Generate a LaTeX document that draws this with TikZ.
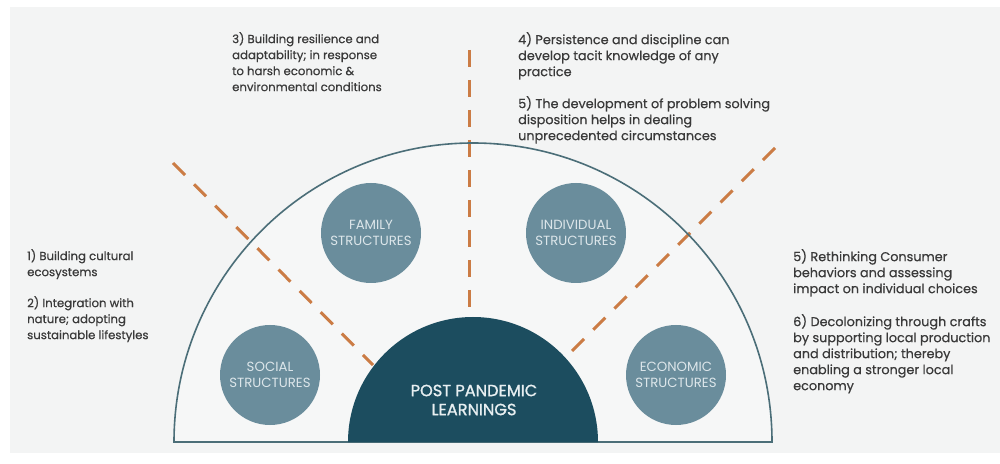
\documentclass[tikz,border=0pt]{standalone}
\usepackage{fontspec}
\setmainfont{Poppins}
\usetikzlibrary{calc}

\definecolor{panel}{HTML}{F3F4F4}
\definecolor{innerbg}{HTML}{F6F7F7}
\definecolor{rim}{HTML}{4B6E78}
\definecolor{hubfill}{HTML}{6A8D9C}
\definecolor{hubtext}{HTML}{DCE6EA}
\definecolor{corefill}{HTML}{1C4D5F}
\definecolor{coretext}{HTML}{E8EFF1}
\definecolor{ray}{HTML}{CB7C45}
\definecolor{note}{HTML}{3A3A3A}

\tikzset{
  hub/.style={circle, fill=hubfill, minimum size=100pt, inner sep=0pt,
    text=hubtext, align=center, font=\fontsize{13.3}{16}\selectfont},
  corelabel/.style={text=coretext, align=center, inner sep=0pt,
    font=\addfontfeature{FakeBold=1.2}\fontsize{16.2}{19}\selectfont},
  notebox/.style={anchor=north west, inner sep=0pt, align=left, text=note,
    font=\addfontfeature{FakeBold=0.5}\fontsize{11.7}{16}\selectfont},
  bignote/.style={notebox, font=\addfontfeature{FakeBold=0.5}\fontsize{12.8}{16}\selectfont},
  rayline/.style={draw=ray, line width=3pt, dash pattern=on 17pt off 13pt},
  rimline/.style={draw=rim, line width=1.6pt},
}

\begin{document}
\begin{tikzpicture}[x=1pt, y=1pt]
  \useasboundingbox (0,0) rectangle (1000,463);
  \fill[white] (0,0) rectangle (1000,463);
  \fill[panel] (10,10) rectangle (1000,456);

  % centre of the base line
  \coordinate (O) at (473,21);

  % outer half disc
  \fill[innerbg] (174,21) arc[start angle=180, end angle=0, radius=299] -- cycle;

  % dashed rays
  \coordinate (ra1) at (173,300);
  \coordinate (rb1) at (373,98);
  \coordinate (ra2) at (469,413);
  \coordinate (rb2) at (469,146);
  \coordinate (ra3) at (775,315);
  \coordinate (rb3) at (567,107);
  \draw[rayline] (ra1) -- (rb1);
  \draw[rayline] (ra2) -- (rb2);
  \draw[rayline] (ra3) -- (rb3);

  % outer rim
  \draw[rimline] (174,21) arc[start angle=180, end angle=0, radius=299] -- cycle;

  % core half disc
  \fill[corefill] (348,21) arc[start angle=180, end angle=0, radius=125] -- cycle;
  \node[corelabel] (core) at (474,63) {POST PANDEMIC\\LEARNINGS};

  % structure circles
  \node[hub] (social) at (270,88) {SOCIAL\\STRUCTURES};
  \node[hub] (family) at (371,230) {FAMILY\\STRUCTURES};
  \node[hub] (individual) at (576,230) {INDIVIDUAL\\STRUCTURES};
  \node[hub] (economic) at (676,88) {ECONOMIC\\STRUCTURES};

  % notes
  \node[notebox] (n1) at (27,214) {1) Building cultural\\ecosystems};
  \node[notebox] (n2) at (27,167) {2) Integration with\\nature; adopting\\sustainable lifestyles};
  \node[notebox] (n3) at (232,431) {3) Building resilience and\\adaptability; in response\\to harsh economic \&\\environmental conditions};
  \node[bignote] (n4) at (518,431) {4) Persistence and discipline can\\develop tacit knowledge of any\\practice};
  \node[bignote] (n5) at (518,367) {5) The development of problem solving\\disposition helps in dealing\\unprecedented circumstances};
  \node[bignote] (n5b) at (793,214) {5) Rethinking Consumer\\behaviors and assessing\\impact on individual choices};
  \node[bignote] (n6) at (793,149) {6) Decolonizing through crafts\\by supporting local production\\and distribution; thereby\\enabling a stronger local\\economy};
\end{tikzpicture}
\end{document}
